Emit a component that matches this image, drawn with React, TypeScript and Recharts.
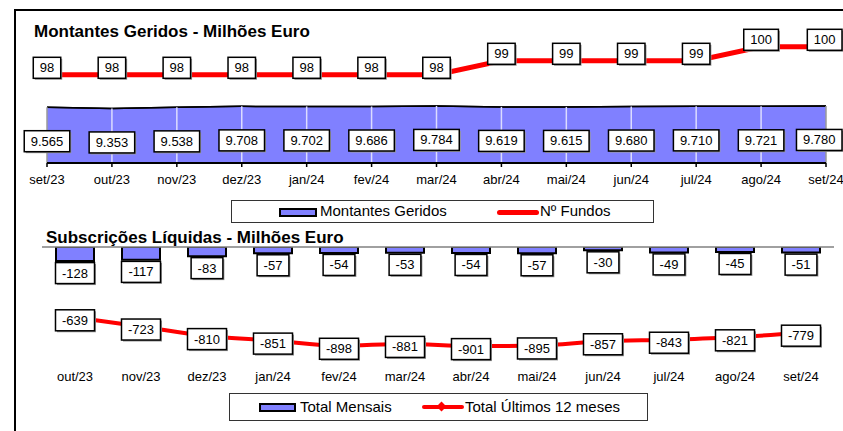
import React from 'react';
import {
  ComposedChart,
  Area,
  Line,
  Bar,
  XAxis,
  YAxis,
  ReferenceLine,
  LabelList,
} from 'recharts';

// ---------- data ----------
const months1 = ['set/23', 'out/23', 'nov/23', 'dez/23', 'jan/24', 'fev/24', 'mar/24', 'abr/24', 'mai/24', 'jun/24', 'jul/24', 'ago/24', 'set/24'];
const montantes = [9565, 9353, 9538, 9708, 9702, 9686, 9784, 9619, 9615, 9680, 9710, 9721, 9780];
const fundos = [98, 98, 98, 98, 98, 98, 98, 99, 99, 99, 99, 100, 100];

const months2 = ['out/23', 'nov/23', 'dez/23', 'jan/24', 'fev/24', 'mar/24', 'abr/24', 'mai/24', 'jun/24', 'jul/24', 'ago/24', 'set/24'];
const mensais = [-128, -117, -83, -57, -54, -53, -54, -57, -30, -49, -45, -51];
const ultimos12 = [-639, -723, -810, -851, -898, -881, -901, -895, -857, -843, -821, -779];

const topData = months1.map((m, i) => ({ m, montantes: montantes[i], fundos: fundos[i] }));
const bottomData = months2.map((m, i) => ({ m, mensais: mensais[i], ultimos: ultimos12[i] }));

// ---------- helpers ----------
const FONT = '"Liberation Sans", Arial, sans-serif';
const CW: Record<string, number> = { '.': 0.278, '-': 0.333, ',': 0.278 };
const textW = (s: string, fs: number) =>
  s.split('').reduce((a, c) => a + (CW[c] ?? 0.556), 0) * fs;

const fmtThousands = (v: number) => {
  const a = Math.abs(v);
  if (a < 1000) return String(v);
  return (v < 0 ? '-' : '') + Math.floor(a / 1000) + '.' + String(a % 1000).padStart(3, '0');
};

const RIGHT_LIMIT = 842;

const Box = ({ cx, cy, text }: { cx: number; cy: number; text: string }) => {
  const fs = 13;
  const w = textW(text, fs) + 13;
  const h = 21;
  const x0 = Math.min(cx - w / 2, RIGHT_LIMIT - w);
  const c = x0 + w / 2;
  return (
    <g>
      <rect x={x0 + 1.5} y={cy - h / 2 + 1.5} width={w} height={h} fill="#9a9a9a" />
      <rect x={x0} y={cy - h / 2} width={w} height={h} fill="#fff" stroke="#000" strokeWidth={1.5} />
      <text x={c} y={cy} textAnchor="middle" dominantBaseline="central" fontSize={fs} fill="#000" fontFamily={FONT}>
        {text}
      </text>
    </g>
  );
};

const areaLabel = (p: any) => <Box cx={p.x} cy={p.y + 34} text={fmtThousands(p.value)} />;
const fundosLabel = (p: any) => <Box cx={p.x} cy={p.y - 7} text={String(p.value)} />;
const barLabel = (p: any) => {
  const bottom = Math.max(p.y, p.y + p.height);
  return <Box cx={p.x + p.width / 2} cy={bottom + 12} text={String(p.value)} />;
};
const lineLabel = (p: any) => <Box cx={p.x} cy={p.y + 3} text={String(p.value)} />;

const Diamond = (p: any) => {
  const { cx, cy } = p;
  if (cx == null || cy == null) return <g key={p.index} />;
  return (
    <path
      key={p.index}
      d={`M${cx},${cy - 4.5}L${cx + 4.5},${cy}L${cx},${cy + 4.5}L${cx - 4.5},${cy}Z`}
      fill="#ff0000"
    />
  );
};

export default function App() {
  return (
    <div
      style={{
        position: 'absolute',
        left: 0,
        top: 0,
        width: 843,
        height: 431,
        background: '#fff',
        overflow: 'hidden',
        fontFamily: FONT,
      }}
    >
      {/* frame */}
      <div
        style={{
          position: 'absolute',
          left: 14,
          top: 9,
          width: 843,
          height: 431,
          borderLeft: '2px solid #000',
          borderTop: '2px solid #000',
        }}
      />

      {/* top chart */}
      <div style={{ position: 'absolute', left: 0, top: 0 }}>
        <ComposedChart width={843} height={200} data={topData} margin={{ top: 23, right: 17, bottom: 7, left: 47 }}>
          <XAxis
            dataKey="m"
            scale="point"
            padding={{ left: 0, right: 0 }}
            axisLine={{ stroke: '#000', strokeWidth: 2 }}
            tickLine={{ stroke: '#000', strokeWidth: 1.5 }}
            tickSize={4}
            tickMargin={8}
            tick={{ fill: '#000', fontSize: 13 }}
            interval={0}
            height={30}
          />
          <YAxis yAxisId="a" hide domain={[0, 24000]} allowDataOverflow />
          <YAxis yAxisId="f" hide domain={[91.7, 101.7]} allowDataOverflow />
          <Area
            yAxisId="a"
            type="linear"
            dataKey="montantes"
            fill="#8080ff"
            fillOpacity={1}
            stroke="#000"
            strokeWidth={1.5}
            isAnimationActive={false}
          />
          {topData.map((d, i) => (
            <ReferenceLine
              key={d.m}
              yAxisId="a"
              segment={[
                { x: d.m, y: 0 },
                { x: d.m, y: d.montantes },
              ]}
              stroke={i === 0 || i === topData.length - 1 ? '#9a9a9a' : '#dcdcff'}
              strokeWidth={1.5}
            />
          ))}
          <Area
            yAxisId="a"
            type="linear"
            dataKey="montantes"
            fill="none"
            stroke="#000"
            strokeWidth={1.5}
            isAnimationActive={false}
          >
            <LabelList dataKey="montantes" content={areaLabel} />
          </Area>
          <Line
            yAxisId="f"
            type="linear"
            dataKey="fundos"
            stroke="#ff0000"
            strokeWidth={5}
            dot={false}
            activeDot={false}
            isAnimationActive={false}
          >
            <LabelList dataKey="fundos" content={fundosLabel} />
          </Line>
        </ComposedChart>
      </div>

      {/* bottom chart */}
      <div style={{ position: 'absolute', left: 0, top: 200 }}>
        <ComposedChart width={843} height={190} data={bottomData} margin={{ top: 47, right: 9, bottom: 3, left: 42 }}>
          <XAxis
            dataKey="m"
            axisLine={false}
            tickLine={false}
            tickSize={0}
            tickMargin={15}
            tick={{ fill: '#000', fontSize: 13 }}
            interval={0}
            height={30}
          />
          <YAxis hide domain={[-1000, 0]} allowDataOverflow />
          <ReferenceLine y={0} stroke="#808080" strokeWidth={1.5} />
          <Bar dataKey="mensais" barSize={38} fill="#8080ff" stroke="#000" strokeWidth={2} isAnimationActive={false}>
            <LabelList dataKey="mensais" content={barLabel} />
          </Bar>
          <Line
            type="monotone"
            dataKey="ultimos"
            stroke="#ff0000"
            strokeWidth={4}
            dot={Diamond}
            activeDot={false}
            isAnimationActive={false}
          >
            <LabelList dataKey="ultimos" content={lineLabel} />
          </Line>
        </ComposedChart>
      </div>

      {/* titles */}
      <div style={{ position: 'absolute', left: 34, top: 23, fontSize: 17, fontWeight: 'bold', lineHeight: '17px', whiteSpace: 'nowrap' }}>
        Montantes Geridos - Milhões Euro
      </div>
      <div style={{ position: 'absolute', left: 46, top: 229, fontSize: 17, fontWeight: 'bold', lineHeight: '17px', whiteSpace: 'nowrap' }}>
        Subscrições Líquidas - Milhões Euro
      </div>

      {/* legend 1 */}
      <div
        style={{
          position: 'absolute',
          left: 231,
          top: 200,
          width: 423,
          height: 23,
          boxSizing: 'border-box',
          border: '1.5px solid #333',
          background: '#fff',
          fontSize: 15,
        }}
      >
        <div style={{ position: 'absolute', left: 47, top: 7, width: 38, height: 9, boxSizing: 'border-box', background: '#8080ff', border: '2px solid #000' }} />
        <div style={{ position: 'absolute', left: 88, top: 1, lineHeight: '18px', whiteSpace: 'nowrap' }}>Montantes Geridos</div>
        <div style={{ position: 'absolute', left: 265, top: 9, width: 42, height: 5, borderRadius: 3, background: '#ff0000' }} />
        <div style={{ position: 'absolute', left: 308, top: 1, lineHeight: '18px', whiteSpace: 'nowrap' }}>Nº Fundos</div>
      </div>

      {/* legend 2 */}
      <div
        style={{
          position: 'absolute',
          left: 229,
          top: 393,
          width: 419,
          height: 28,
          boxSizing: 'border-box',
          border: '1.5px solid #333',
          background: '#fff',
          fontSize: 15,
        }}
      >
        <div style={{ position: 'absolute', left: 29, top: 9, width: 37, height: 9, boxSizing: 'border-box', background: '#8080ff', border: '2px solid #000' }} />
        <div style={{ position: 'absolute', left: 70, top: 4, lineHeight: '18px', whiteSpace: 'nowrap' }}>Total Mensais</div>
        <div style={{ position: 'absolute', left: 192, top: 11, width: 42, height: 4, borderRadius: 2, background: '#ff0000' }} />
        <div style={{ position: 'absolute', left: 208, top: 9, width: 7, height: 7, background: '#ff0000', transform: 'rotate(45deg)' }} />
        <div style={{ position: 'absolute', left: 235, top: 4, lineHeight: '18px', whiteSpace: 'nowrap' }}>Total Últimos 12 meses</div>
      </div>
    </div>
  );
}
